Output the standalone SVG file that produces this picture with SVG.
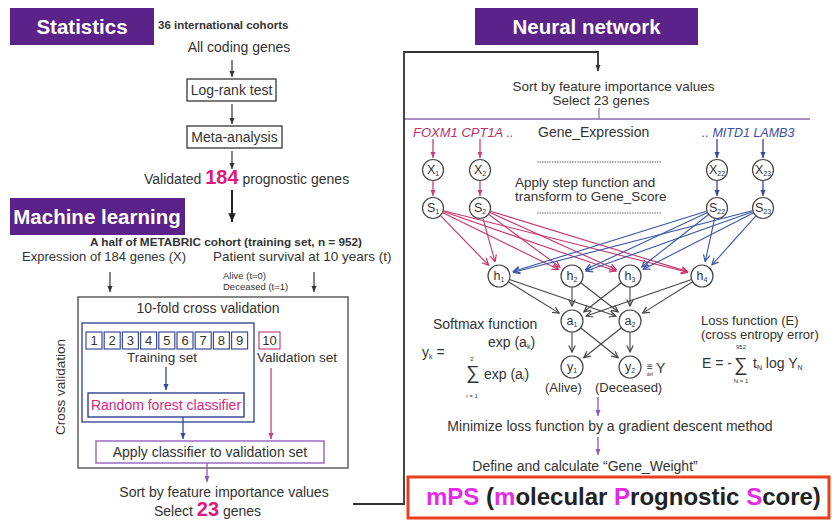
<svg xmlns="http://www.w3.org/2000/svg" width="832" height="523" viewBox="0 0 832 523">
<style>
text{font-family:"Liberation Sans",Arial,Helvetica,sans-serif;fill:#333;font-size:14px}
.c{text-anchor:middle}
.b{font-weight:bold}
.hdr{fill:#5b2289}
.ht{font-size:20.5px;font-weight:bold;fill:#fff;text-anchor:middle}
.hot{fill:#e0187a;font-weight:bold;font-size:20px}
.box{fill:#fff;stroke:#444;stroke-width:1.4}
.ak{stroke:#333;stroke-width:1.2;fill:none;marker-end:url(#mk)}
.ab{stroke:#34479c;stroke-width:1.3;fill:none;marker-end:url(#mb)}
.ap{stroke:#c2457f;stroke-width:1.3;fill:none;marker-end:url(#mp)}
.av{stroke:#8a5cb8;stroke-width:1.3;fill:none;marker-end:url(#mv)}
.em{stroke:#c8336c;stroke-width:1.1;fill:none;marker-end:url(#nm)}
.eb{stroke:#3a55a8;stroke-width:1.1;fill:none;marker-end:url(#nb)}
.ek{stroke:#444;stroke-width:1.1;fill:none;marker-end:url(#nk)}
.node{fill:#fff;stroke:#444;stroke-width:1.2}
.nl{font-size:12.5px;text-anchor:middle}
.sub{font-size:7px}
.dot{stroke:#666;stroke-width:1.2;stroke-dasharray:1.5 1}
.mg{fill:#e62ae6}
.n13{font-size:13px}
.n135{font-size:13.5px}
.tiny{font-size:9.5px}
</style>
<defs>
<marker id="mk" viewBox="0 0 8 8" refX="7" refY="4" markerWidth="7" markerHeight="7" markerUnits="userSpaceOnUse" orient="auto"><path d="M0,1 L7,4 L0,7 z" fill="#333"/></marker>
<marker id="mK" viewBox="0 0 8 8" refX="7" refY="4" markerWidth="10" markerHeight="10" markerUnits="userSpaceOnUse" orient="auto"><path d="M0,1 L7,4 L0,7 z" fill="#222"/></marker>
<marker id="mb" viewBox="0 0 8 8" refX="7" refY="4" markerWidth="7" markerHeight="7" markerUnits="userSpaceOnUse" orient="auto"><path d="M0,1 L7,4 L0,7 z" fill="#34479c"/></marker>
<marker id="mp" viewBox="0 0 8 8" refX="7" refY="4" markerWidth="7" markerHeight="7" markerUnits="userSpaceOnUse" orient="auto"><path d="M0,1 L7,4 L0,7 z" fill="#c2457f"/></marker>
<marker id="mv" viewBox="0 0 8 8" refX="7" refY="4" markerWidth="7" markerHeight="7" markerUnits="userSpaceOnUse" orient="auto"><path d="M0,1 L7,4 L0,7 z" fill="#8a5cb8"/></marker>
<marker id="nm" viewBox="0 0 8 8" refX="7" refY="4" markerWidth="8" markerHeight="8" markerUnits="userSpaceOnUse" orient="auto"><path d="M0.5,0.8 L7,4 L0.5,7.2" fill="none" stroke="#c8336c" stroke-width="1.2"/></marker>
<marker id="nb" viewBox="0 0 8 8" refX="7" refY="4" markerWidth="8" markerHeight="8" markerUnits="userSpaceOnUse" orient="auto"><path d="M0.5,0.8 L7,4 L0.5,7.2" fill="none" stroke="#3a55a8" stroke-width="1.2"/></marker>
<marker id="nk" viewBox="0 0 8 8" refX="7" refY="4" markerWidth="8" markerHeight="8" markerUnits="userSpaceOnUse" orient="auto"><path d="M0.5,0.8 L7,4 L0.5,7.2" fill="none" stroke="#444" stroke-width="1.2"/></marker>
</defs>
<rect width="832" height="523" fill="#fff"/>

<!-- section headers -->
<g id="hdr-statistics"><rect class="hdr" x="10" y="8" width="144" height="37"/><text class="ht" x="82" y="34">Statistics</text></g>
<g id="hdr-ml"><rect class="hdr" x="10" y="198" width="175" height="37"/><text class="ht" x="97" y="224">Machine learning</text></g>
<g id="hdr-nn"><rect class="hdr" x="475" y="8" width="223" height="37"/><text class="ht" x="586.5" y="34">Neural network</text></g>

<!-- statistics pipeline -->
<g id="stats">
<text class="b" x="158" y="29" style="font-size:11.5px">36 international cohorts</text>
<text class="c" x="239" y="52">All coding genes</text>
<g id="logrank"><rect class="box" x="187" y="79" width="89" height="22"/><text class="c" x="231.5" y="95">Log-rank test</text></g>
<g id="meta"><rect class="box" x="187" y="126" width="95" height="22"/><text class="c" x="234.5" y="142">Meta-analysis</text></g>
<text x="144" y="184">Validated <tspan class="hot">184</tspan> prognostic genes</text>
</g>

<!-- machine learning -->
<g id="ml">
<text class="b" x="90" y="246" style="font-size:11.5px" textLength="272" lengthAdjust="spacingAndGlyphs">A half of METABRIC cohort (training set, n = 952)</text>
<text class="n13" x="22" y="261">Expression of 184 genes (X)</text>
<text class="n135" x="213" y="261">Patient survival at 10 years (t)</text>
<text class="tiny" x="223" y="279">Alive (t=0)</text>
<text class="tiny" x="223" y="290">Deceased (t=1)</text>
<g id="cv"><rect x="78" y="297" width="270" height="171" fill="none" stroke="#555" stroke-width="1.4"/>
<text class="c" x="208" y="313">10-fold cross validation</text></g>
<text class="c n135" transform="translate(65 387) rotate(-90)">Cross validation</text>
<g id="training"><rect x="82" y="323" width="172" height="99" fill="none" stroke="#3c4a96" stroke-width="1.4"/>
<g fill="#fff" stroke="#3c4a96" stroke-width="1.2">
<rect x="86" y="332" width="16" height="17"/><rect x="104.2" y="332" width="16" height="17"/><rect x="122.4" y="332" width="16" height="17"/>
<rect x="140.6" y="332" width="16" height="17"/><rect x="158.8" y="332" width="16" height="17"/><rect x="177" y="332" width="16" height="17"/>
<rect x="195.2" y="332" width="16" height="17"/><rect x="213.4" y="332" width="16" height="17"/><rect x="231.6" y="332" width="16" height="17"/>
</g>
<text class="c n13" x="94" y="345">1</text><text class="c n13" x="112.2" y="345">2</text><text class="c n13" x="130.4" y="345">3</text>
<text class="c n13" x="148.6" y="345">4</text><text class="c n13" x="166.8" y="345">5</text><text class="c n13" x="185" y="345">6</text>
<text class="c n13" x="203.2" y="345">7</text><text class="c n13" x="221.4" y="345">8</text><text class="c n13" x="239.6" y="345">9</text>
<text class="c n135" x="162" y="362">Training set</text>
</g>
<g id="fold10"><rect x="259" y="332" width="21" height="17" fill="#fff" stroke="#c0457a" stroke-width="1.2"/><text class="c n13" x="269.5" y="345">10</text>
<text class="n135" x="257" y="362">Validation set</text></g>
<g id="rf"><rect x="88" y="393" width="156" height="24" fill="#fff" stroke="#2f3f8f" stroke-width="1.4"/><text class="c" x="166" y="410" style="fill:#d6287f">Random forest classifier</text></g>
<g id="apply"><rect x="96" y="441" width="228" height="22" fill="#fff" stroke="#9660c0" stroke-width="1.4"/><text class="c" x="210" y="457">Apply classifier to validation set</text></g>
<text class="c" x="224" y="497">Sort by feature importance values</text>
<text x="154" y="516">Select <tspan class="hot">23</tspan> genes</text>
</g>

<!-- neural network -->
<g id="nn-top">
<text class="c n135" x="613.5" y="91">Sort by feature importance values</text>
<text class="c n135" x="601" y="105">Select 23 genes</text>
<line x1="404" y1="119" x2="810" y2="119" stroke="#8a6ab0" stroke-width="1.5"/>
<line x1="599" y1="108" x2="599" y2="119" stroke="#8a6ab0" stroke-width="1.2"/>
<text x="413" y="137" style="font-size:13px;font-style:italic;fill:#c0306a">FOXM1 CPT1A ..</text>
<text x="538" y="137">Gene_Expression</text>
<text x="702" y="137" style="font-size:12.5px;font-style:italic;fill:#3b4ea6">.. MITD1 LAMB3</text>
<line class="dot" x1="537" y1="162" x2="662" y2="162"/>
<text class="n135" x="515" y="187">Apply step function and</text>
<text class="n135" x="515" y="201">transform to Gene_Score</text>
<line class="dot" x1="537" y1="213" x2="662" y2="213"/>
</g>

<g id="connectors">
<!-- statistics -->
<line class="ak" x1="232" y1="60" x2="232" y2="77"/>
<line class="ak" x1="232" y1="104" x2="232" y2="124"/>
<line class="ak" x1="232" y1="151" x2="232" y2="169"/>
<line x1="232" y1="190" x2="232" y2="222" stroke="#222" stroke-width="2" marker-end="url(#mK)"/>
<!-- machine learning -->
<line class="ak" x1="110" y1="272" x2="110" y2="292"/>
<line class="ak" x1="314" y1="272" x2="314" y2="292"/>
<line class="ab" x1="166" y1="367" x2="166" y2="390"/>
<line class="ab" x1="183" y1="417" x2="183" y2="439"/>
<line class="ap" x1="271" y1="368" x2="271" y2="439"/>
<line class="av" x1="207" y1="463" x2="207" y2="482"/>
<!-- hand-over to neural network -->
<path d="M353,504 H404 V52 H598 V71" fill="none" stroke="#333" stroke-width="1.8" marker-end="url(#mk)"/>
<!-- genes to inputs -->
<line class="ap" x1="433" y1="139" x2="433" y2="158"/>
<line class="ap" x1="480" y1="139" x2="480" y2="158"/>
<line class="ab" x1="717" y1="139" x2="717" y2="158"/>
<line class="ab" x1="763" y1="139" x2="763" y2="158"/>
<line class="ap" x1="433" y1="181" x2="433" y2="196"/>
<line class="ap" x1="480" y1="181" x2="480" y2="196"/>
<line class="ab" x1="717" y1="181" x2="717" y2="196"/>
<line class="ab" x1="763" y1="181" x2="763" y2="196"/>
<!-- scores to hidden layer -->
<line class="em" x1="440.7" y1="215.9" x2="488.6" y2="265.2"/>
<line class="em" x1="442.9" y1="212.8" x2="558.5" y2="269.4"/>
<line class="em" x1="443.4" y1="211.6" x2="615.8" y2="271.1"/>
<line class="em" x1="443.7" y1="210.7" x2="687.5" y2="272.3"/>
<line class="em" x1="483" y1="218.6" x2="495" y2="261.6"/>
<line class="em" x1="488.8" y1="214.5" x2="559.9" y2="267.1"/>
<line class="em" x1="490" y1="212.5" x2="616.3" y2="269.8"/>
<line class="em" x1="490.5" y1="211.2" x2="687.7" y2="271.6"/>
<line class="eb" x1="706.5" y1="211.3" x2="513.3" y2="271.5"/>
<line class="eb" x1="707" y1="212.7" x2="585.6" y2="269.6"/>
<line class="eb" x1="708.3" y1="214.8" x2="641.8" y2="266.8"/>
<line class="eb" x1="714.6" y1="218.7" x2="705.2" y2="261.4"/>
<line class="eb" x1="752.3" y1="210.7" x2="513.5" y2="272.3"/>
<line class="eb" x1="752.6" y1="211.7" x2="586.1" y2="271"/>
<line class="eb" x1="753.2" y1="213" x2="643.4" y2="269.2"/>
<line class="eb" x1="755.7" y1="216.2" x2="712" y2="264.8"/>
<!-- hidden to output -->
<line class="ek" x1="508.4" y1="281.8" x2="559.2" y2="313.1"/>
<line class="ek" x1="509.4" y1="279.6" x2="615.8" y2="316.1"/>
<line class="ek" x1="572" y1="287" x2="572" y2="306"/>
<line class="ek" x1="580.7" y1="282.7" x2="618.1" y2="311.8"/>
<line class="ek" x1="621.3" y1="282.7" x2="583.9" y2="311.8"/>
<line class="ek" x1="630" y1="287" x2="630" y2="306"/>
<line class="ek" x1="691.6" y1="279.6" x2="586.2" y2="316.1"/>
<line class="ek" x1="692.7" y1="281.8" x2="642.7" y2="313.1"/>
<line class="ek" x1="572" y1="332" x2="572" y2="352"/>
<line class="ek" x1="580.6" y1="327.8" x2="618.2" y2="357.7"/>
<line class="ek" x1="621.4" y1="327.8" x2="583.8" y2="357.7"/>
<line class="ek" x1="630" y1="332" x2="630" y2="352"/>
<!-- training steps -->
<line class="av" x1="598" y1="397" x2="598" y2="416"/>
<line class="av" x1="598" y1="437" x2="598" y2="455"/>
</g>

<!-- network nodes -->
<g id="x1"><circle class="node" cx="433" cy="170" r="10.5"/><text class="nl" x="433" y="174">X<tspan class="sub" dy="2">1</tspan></text></g>
<g id="x2"><circle class="node" cx="480" cy="170" r="10.5"/><text class="nl" x="480" y="174">X<tspan class="sub" dy="2">2</tspan></text></g>
<g id="x22"><circle class="node" cx="717" cy="170" r="10.5"/><text class="nl" x="717" y="174">X<tspan class="sub" dy="2">22</tspan></text></g>
<g id="x23"><circle class="node" cx="763" cy="170" r="10.5"/><text class="nl" x="763" y="174">X<tspan class="sub" dy="2">23</tspan></text></g>
<g id="s1"><circle class="node" cx="433" cy="208" r="10.5"/><text class="nl" x="433" y="212">S<tspan class="sub" dy="2">1</tspan></text></g>
<g id="s2"><circle class="node" cx="480" cy="208" r="10.5"/><text class="nl" x="480" y="212">S<tspan class="sub" dy="2">2</tspan></text></g>
<g id="s22"><circle class="node" cx="717" cy="208" r="10.5"/><text class="nl" x="717" y="212">S<tspan class="sub" dy="2">22</tspan></text></g>
<g id="s23"><circle class="node" cx="763" cy="208" r="10.5"/><text class="nl" x="763" y="212">S<tspan class="sub" dy="2">23</tspan></text></g>
<g id="h1"><circle class="node" cx="499" cy="276" r="11"/><text class="nl" x="499" y="280">h<tspan class="sub" dy="2">1</tspan></text></g>
<g id="h2"><circle class="node" cx="572" cy="276" r="11"/><text class="nl" x="572" y="280">h<tspan class="sub" dy="2">2</tspan></text></g>
<g id="h3"><circle class="node" cx="630" cy="276" r="11"/><text class="nl" x="630" y="280">h<tspan class="sub" dy="2">3</tspan></text></g>
<g id="h4"><circle class="node" cx="702" cy="276" r="11"/><text class="nl" x="702" y="280">h<tspan class="sub" dy="2">4</tspan></text></g>
<g id="a1"><circle class="node" cx="572" cy="321" r="11"/><text class="nl" x="572" y="325">a<tspan class="sub" dy="2">1</tspan></text></g>
<g id="a2"><circle class="node" cx="630" cy="321" r="11"/><text class="nl" x="630" y="325">a<tspan class="sub" dy="2">2</tspan></text></g>
<g id="y1"><circle class="node" cx="572" cy="367" r="11"/><text class="nl" x="572" y="371">y<tspan class="sub" dy="2">1</tspan></text></g>
<g id="y2"><circle class="node" cx="630" cy="367" r="11"/><text class="nl" x="630" y="371">y<tspan class="sub" dy="2">2</tspan></text></g>

<!-- output labels and formulas -->
<g id="formulas">
<text class="n13" x="545" y="392">(Alive)</text>
<text class="n13" x="595" y="392">(Deceased)</text>
<text x="650" y="370" class="c" style="font-size:10px">≡</text>
<text x="650" y="376" class="c" style="font-size:4.5px">def</text>
<text x="656" y="373">Y</text>
<text x="433" y="329">Softmax function</text>
<text x="422" y="357">y<tspan class="sub" dy="2">k</tspan><tspan dy="-2"> =</tspan></text>
<text x="488" y="347">exp (a<tspan class="sub" dy="2">k</tspan><tspan dy="-2">)</tspan></text>
<text x="472" y="361" class="c" style="font-size:6px">2</text>
<text x="473" y="379" class="c" style="font-size:19px">∑</text>
<text x="472" y="398" class="c" style="font-size:6px">i = 1</text>
<text x="484" y="379">exp (a<tspan class="sub" dy="2">i</tspan><tspan dy="-2">)</tspan></text>
<text class="n13" x="701" y="325">Loss function (E)</text>
<text class="n13" x="701" y="339">(cross entropy error)</text>
<text x="741" y="349" class="c" style="font-size:6px">952</text>
<text x="702" y="368">E = -</text>
<text x="741" y="371" class="c" style="font-size:19px">∑</text>
<text x="741" y="383" class="c" style="font-size:6px">N = 1</text>
<text x="753" y="368">t<tspan class="sub" dy="2">N</tspan><tspan dy="-2"> log Y</tspan><tspan class="sub" dy="2">N</tspan></text>
<text class="c" x="610" y="431">Minimize loss function by a gradient descent method</text>
<text class="c" x="585" y="471">Define and calculate “Gene_Weight”</text>
</g>

<g id="mps"><rect x="408" y="477" width="421" height="41" fill="#fff" stroke="#e8401f" stroke-width="3"/>
<text x="426" y="505" style="font-size:24px;font-weight:bold;fill:#222"><tspan class="mg">mPS</tspan> (<tspan class="mg">m</tspan>olecular <tspan class="mg">P</tspan>rognostic <tspan class="mg">S</tspan>core)</text></g>
</svg>
